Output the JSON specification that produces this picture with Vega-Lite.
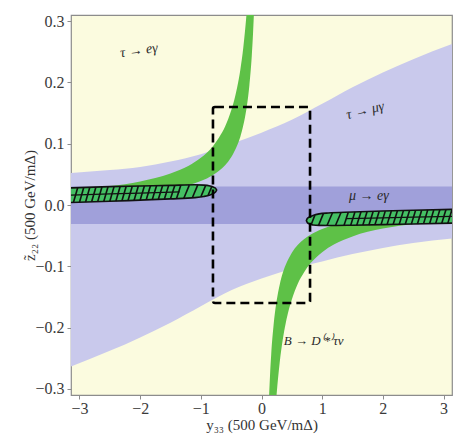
{
  "$schema": "https://vega.github.io/schema/vega-lite/v6.json",
  "width": 381,
  "height": 380,
  "autosize": {"type": "none"},
  "padding": {"left": 71, "top": 15, "right": 23, "bottom": 41},
  "background": "white",
  "config": {
    "font": "Liberation Serif",
    "view": {"fill": "#fbfbdf", "stroke": "#8c8c8c", "strokeWidth": 1.2},
    "axis": {
      "labelFont": "Liberation Serif",
      "labelFontSize": 16,
      "labelColor": "#3a3a3a",
      "titleFont": "Liberation Serif",
      "titleFontSize": 15,
      "titleFontWeight": "normal",
      "titleColor": "#333333",
      "grid": false,
      "domain": false,
      "tickColor": "#8c8c8c",
      "tickSize": 4
    }
  },
  "encoding": {
    "x": {
      "field": "x",
      "type": "quantitative",
      "scale": {"domain": [-3.14, 3.14], "nice": false, "zero": false},
      "axis": {"values": [-3, -2, -1, 0, 1, 2, 3], "format": "d", "title": "y₃₃ (500 GeV/mΔ)", "labelPadding": 1, "titleY": 22}
    },
    "y": {
      "field": "y",
      "type": "quantitative",
      "scale": {"domain": [-0.31, 0.31], "nice": false, "zero": false},
      "axis": {"values": [-0.3, -0.2, -0.1, 0, 0.1, 0.2, 0.3], "format": ".1f", "title": "z̃₂₂ (500 GeV/mΔ)", "labelPadding": 3, "titleX": -34}
    }
  },
  "datasets": {
    "taumugamma": [
      {"x": -3.2, "y": -0.266, "y2": 0.052},
      {"x": -2.5, "y": -0.238, "y2": 0.057},
      {"x": -2.0, "y": -0.216, "y2": 0.062},
      {"x": -1.5, "y": -0.192, "y2": 0.071},
      {"x": -1.0, "y": -0.165, "y2": 0.083},
      {"x": -0.5, "y": -0.139, "y2": 0.1},
      {"x": 0.0, "y": -0.12, "y2": 0.118},
      {"x": 0.5, "y": -0.104, "y2": 0.139},
      {"x": 1.0, "y": -0.092, "y2": 0.165},
      {"x": 1.5, "y": -0.08, "y2": 0.192},
      {"x": 2.0, "y": -0.07, "y2": 0.216},
      {"x": 2.5, "y": -0.062, "y2": 0.238},
      {"x": 3.2, "y": -0.054, "y2": 0.265}
    ],
    "mueg": [
      {"x": -3.2, "y": -0.031, "y2": 0.03},
      {"x": 3.2, "y": -0.031, "y2": 0.03}
    ],
    "greenUp": [
      {"x": -3.2, "y": 0.0122, "y2": 0.024},
      {"x": -2.5, "y": 0.0156, "y2": 0.0308},
      {"x": -2.0, "y": 0.0195, "y2": 0.0385},
      {"x": -1.5, "y": 0.026, "y2": 0.0513},
      {"x": -1.2, "y": 0.0325, "y2": 0.064},
      {"x": -1.0, "y": 0.039, "y2": 0.077},
      {"x": -0.8, "y": 0.049, "y2": 0.096},
      {"x": -0.7, "y": 0.056, "y2": 0.11},
      {"x": -0.6, "y": 0.065, "y2": 0.128},
      {"x": -0.5, "y": 0.078, "y2": 0.154},
      {"x": -0.45, "y": 0.087, "y2": 0.171},
      {"x": -0.4, "y": 0.0975, "y2": 0.1925},
      {"x": -0.35, "y": 0.111, "y2": 0.22},
      {"x": -0.3, "y": 0.13, "y2": 0.257},
      {"x": -0.25, "y": 0.156, "y2": 0.308},
      {"x": -0.24, "y": 0.1625, "y2": 0.32},
      {"x": -0.2, "y": 0.195, "y2": 0.32},
      {"x": -0.16, "y": 0.244, "y2": 0.32},
      {"x": -0.14, "y": 0.279, "y2": 0.32},
      {"x": -0.125, "y": 0.312, "y2": 0.32}
    ],
    "greenDown": [
      {"x": 0.125, "y": -0.32, "y2": -0.312},
      {"x": 0.14, "y": -0.32, "y2": -0.279},
      {"x": 0.16, "y": -0.32, "y2": -0.244},
      {"x": 0.2, "y": -0.32, "y2": -0.195},
      {"x": 0.24, "y": -0.32, "y2": -0.1625},
      {"x": 0.25, "y": -0.308, "y2": -0.156},
      {"x": 0.3, "y": -0.257, "y2": -0.13},
      {"x": 0.35, "y": -0.22, "y2": -0.111},
      {"x": 0.4, "y": -0.1925, "y2": -0.0975},
      {"x": 0.45, "y": -0.171, "y2": -0.087},
      {"x": 0.5, "y": -0.154, "y2": -0.078},
      {"x": 0.6, "y": -0.128, "y2": -0.065},
      {"x": 0.7, "y": -0.11, "y2": -0.056},
      {"x": 0.8, "y": -0.096, "y2": -0.049},
      {"x": 1.0, "y": -0.077, "y2": -0.039},
      {"x": 1.2, "y": -0.064, "y2": -0.0325},
      {"x": 1.5, "y": -0.0513, "y2": -0.026},
      {"x": 2.0, "y": -0.0385, "y2": -0.0195},
      {"x": 2.5, "y": -0.0308, "y2": -0.0156},
      {"x": 3.2, "y": -0.024, "y2": -0.0122}
    ],
    "ellipseLeft": [
      {"x": -3.2, "y": 0.0038, "y2": 0.0278},
      {"x": -2.5, "y": 0.006, "y2": 0.03},
      {"x": -2.0, "y": 0.008, "y2": 0.031},
      {"x": -1.5, "y": 0.01, "y2": 0.032},
      {"x": -1.1, "y": 0.012, "y2": 0.033},
      {"x": -0.95, "y": 0.014, "y2": 0.0325},
      {"x": -0.85, "y": 0.0165, "y2": 0.031},
      {"x": -0.79, "y": 0.019, "y2": 0.029},
      {"x": -0.755, "y": 0.0215, "y2": 0.027},
      {"x": -0.74, "y": 0.0243, "y2": 0.0245}
    ],
    "ellipseRight": [
      {"x": 0.74, "y": -0.0255, "y2": -0.0253},
      {"x": 0.755, "y": -0.0285, "y2": -0.022},
      {"x": 0.79, "y": -0.031, "y2": -0.0195},
      {"x": 0.85, "y": -0.0325, "y2": -0.017},
      {"x": 0.95, "y": -0.0333, "y2": -0.0145},
      {"x": 1.1, "y": -0.0335, "y2": -0.013},
      {"x": 1.5, "y": -0.033, "y2": -0.0115},
      {"x": 2.0, "y": -0.032, "y2": -0.0098},
      {"x": 2.5, "y": -0.031, "y2": -0.0085},
      {"x": 3.2, "y": -0.0295, "y2": -0.007}
    ],
    "hatches": [
      {"x": -3.1, "y": 0.0042, "x2": -3.03, "y2": 0.0282},
      {"x": -3.0, "y": 0.0045, "x2": -2.93, "y2": 0.0285},
      {"x": -2.9, "y": 0.005, "x2": -2.83, "y2": 0.029},
      {"x": -2.8, "y": 0.0052, "x2": -2.73, "y2": 0.029},
      {"x": -2.7, "y": 0.0055, "x2": -2.63, "y2": 0.0295},
      {"x": -2.6, "y": 0.0058, "x2": -2.53, "y2": 0.0297},
      {"x": -2.5, "y": 0.0062, "x2": -2.43, "y2": 0.03},
      {"x": -2.4, "y": 0.0066, "x2": -2.33, "y2": 0.0302},
      {"x": -2.3, "y": 0.007, "x2": -2.23, "y2": 0.0305},
      {"x": -2.2, "y": 0.0073, "x2": -2.13, "y2": 0.0307},
      {"x": -2.1, "y": 0.0077, "x2": -2.03, "y2": 0.031},
      {"x": -2.0, "y": 0.0081, "x2": -1.93, "y2": 0.031},
      {"x": -1.9, "y": 0.0085, "x2": -1.83, "y2": 0.0313},
      {"x": -1.8, "y": 0.0089, "x2": -1.73, "y2": 0.0315},
      {"x": -1.7, "y": 0.0093, "x2": -1.63, "y2": 0.0317},
      {"x": -1.6, "y": 0.0097, "x2": -1.53, "y2": 0.032},
      {"x": -1.5, "y": 0.0101, "x2": -1.43, "y2": 0.032},
      {"x": -1.4, "y": 0.0106, "x2": -1.33, "y2": 0.0322},
      {"x": -1.28, "y": 0.0111, "x2": -1.19, "y2": 0.0325},
      {"x": -1.14, "y": 0.0118, "x2": -1.05, "y2": 0.0328},
      {"x": -1.0, "y": 0.0133, "x2": -0.92, "y2": 0.032},
      {"x": -0.88, "y": 0.0158, "x2": -0.82, "y2": 0.03},
      {"x": 0.82, "y": -0.0318, "x2": 0.88, "y2": -0.0165},
      {"x": 0.94, "y": -0.0333, "x2": 1.02, "y2": -0.014},
      {"x": 1.08, "y": -0.0335, "x2": 1.17, "y2": -0.0127},
      {"x": 1.22, "y": -0.0334, "x2": 1.31, "y2": -0.0122},
      {"x": 1.36, "y": -0.0333, "x2": 1.43, "y2": -0.0119},
      {"x": 1.47, "y": -0.0331, "x2": 1.54, "y2": -0.0115},
      {"x": 1.57, "y": -0.033, "x2": 1.64, "y2": -0.0112},
      {"x": 1.67, "y": -0.0328, "x2": 1.74, "y2": -0.0109},
      {"x": 1.77, "y": -0.0326, "x2": 1.84, "y2": -0.0106},
      {"x": 1.87, "y": -0.0324, "x2": 1.94, "y2": -0.0103},
      {"x": 1.97, "y": -0.0322, "x2": 2.04, "y2": -0.01},
      {"x": 2.07, "y": -0.032, "x2": 2.14, "y2": -0.0097},
      {"x": 2.17, "y": -0.0318, "x2": 2.24, "y2": -0.0094},
      {"x": 2.27, "y": -0.0316, "x2": 2.34, "y2": -0.0091},
      {"x": 2.37, "y": -0.0314, "x2": 2.44, "y2": -0.0089},
      {"x": 2.47, "y": -0.0312, "x2": 2.54, "y2": -0.0087},
      {"x": 2.57, "y": -0.031, "x2": 2.64, "y2": -0.0085},
      {"x": 2.67, "y": -0.0308, "x2": 2.74, "y2": -0.0082},
      {"x": 2.77, "y": -0.0306, "x2": 2.84, "y2": -0.008},
      {"x": 2.87, "y": -0.0304, "x2": 2.94, "y2": -0.0078},
      {"x": 2.97, "y": -0.0302, "x2": 3.04, "y2": -0.0076},
      {"x": 3.07, "y": -0.03, "x2": 3.14, "y2": -0.0073}
    ],
    "midLeft": [
      {"x": -3.2, "y": 0.0158},
      {"x": -2.5, "y": 0.018},
      {"x": -2.0, "y": 0.0195},
      {"x": -1.35, "y": 0.0215}
    ],
    "midRight": [
      {"x": 1.4, "y": -0.0222},
      {"x": 2.0, "y": -0.021},
      {"x": 2.5, "y": -0.0198},
      {"x": 3.2, "y": -0.0183}
    ],
    "box": [
      {"x": -0.8, "x2": 0.8, "y": -0.16, "y2": 0.16}
    ]
  },
  "layer": [
    {
      "data": {"name": "taumugamma"},
      "mark": {"type": "area", "color": "#c9c9ec", "clip": true, "interpolate": "monotone"},
      "encoding": {"y2": {"field": "y2"}}
    },
    {
      "data": {"name": "mueg"},
      "mark": {"type": "area", "color": "#a0a0da", "clip": true},
      "encoding": {"y2": {"field": "y2"}}
    },
    {
      "data": {"name": "greenUp"},
      "mark": {"type": "area", "color": "#5ec147", "clip": true, "interpolate": "monotone"},
      "encoding": {"y2": {"field": "y2"}}
    },
    {
      "data": {"name": "greenDown"},
      "mark": {"type": "area", "color": "#5ec147", "clip": true, "interpolate": "monotone"},
      "encoding": {"y2": {"field": "y2"}}
    },
    {
      "data": {"name": "ellipseLeft"},
      "mark": {"type": "area", "fill": "#45c064", "stroke": "#111111", "strokeWidth": 1.6, "clip": true, "interpolate": "monotone", "fillOpacity": 1},
      "encoding": {"y2": {"field": "y2"}}
    },
    {
      "data": {"name": "ellipseRight"},
      "mark": {"type": "area", "fill": "#45c064", "stroke": "#111111", "strokeWidth": 1.6, "clip": true, "interpolate": "monotone", "fillOpacity": 1},
      "encoding": {"y2": {"field": "y2"}}
    },
    {
      "data": {"name": "hatches"},
      "mark": {"type": "rule", "color": "#111111", "strokeWidth": 1.6, "clip": true},
      "encoding": {"x2": {"field": "x2"}, "y2": {"field": "y2"}}
    },
    {
      "data": {"name": "midLeft"},
      "mark": {"type": "line", "color": "#111111", "strokeWidth": 1.2, "clip": true},
      "encoding": {}
    },
    {
      "data": {"name": "midRight"},
      "mark": {"type": "line", "color": "#111111", "strokeWidth": 1.2, "clip": true},
      "encoding": {}
    },
    {
      "data": {"name": "box"},
      "mark": {"type": "rect", "fill": null, "fillOpacity": 0, "stroke": "#000000", "strokeWidth": 2.6, "strokeDash": [9, 5], "cornerRadius": 2},
      "encoding": {"x2": {"field": "x2"}, "y2": {"field": "y2"}}
    },
    {
      "data": {"values": [{"x": -2.02, "y": 0.252, "t": "τ → eγ"}]},
      "mark": {"type": "text", "font": "Liberation Serif", "fontStyle": "italic", "fontSize": 14, "color": "#2a2a2a", "angle": 352},
      "encoding": {"text": {"field": "t"}}
    },
    {
      "data": {"values": [{"x": 1.71, "y": 0.154, "t": "τ → μγ"}]},
      "mark": {"type": "text", "font": "Liberation Serif", "fontStyle": "italic", "fontSize": 14, "color": "#2a2a2a", "angle": 346},
      "encoding": {"text": {"field": "t"}}
    },
    {
      "data": {"values": [{"x": 1.77, "y": 0.015, "t": "μ → eγ"}]},
      "mark": {"type": "text", "font": "Liberation Serif", "fontStyle": "italic", "fontSize": 14, "color": "#2a2a2a"},
      "encoding": {"text": {"field": "t"}}
    },
    {
      "data": {"values": [{"x": 0.86, "y": -0.222, "t": "B → D⁽*⁾τν"}]},
      "mark": {"type": "text", "font": "Liberation Serif", "fontStyle": "italic", "fontSize": 13, "color": "#2a2a2a"},
      "encoding": {"text": {"field": "t"}}
    }
  ]
}
